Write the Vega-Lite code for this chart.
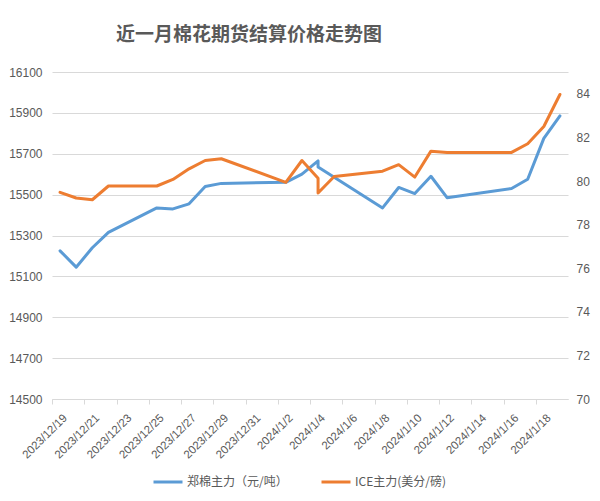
{
  "$schema": "https://vega.github.io/schema/vega-lite/v6.json",
  "autosize": "none",
  "width": 516,
  "height": 327,
  "padding": {"left": 52, "top": 72, "right": 32, "bottom": 102},
  "background": "white",
  "title": {
    "text": "近一月棉花期货结算价格走势图",
    "anchor": "start",
    "frame": "group",
    "dx": 64,
    "offset": 2,
    "baseline": "bottom",
    "font": "Noto Sans CJK SC",
    "fontSize": 19,
    "fontWeight": "bold",
    "color": "#595959"
  },
  "config": {
    "view": {"stroke": null},
    "font": "Liberation Sans",
    "axis": {"labelColor": "#595959", "labelFont": "Liberation Sans", "title": null}
  },
  "data": {
    "values": [
      {"i": 1, "series": "郑棉主力（元/吨）", "date": "2023/12/19", "value": 15225},
      {"i": 2, "series": "郑棉主力（元/吨）", "date": "2023/12/20", "value": 15145},
      {"i": 3, "series": "郑棉主力（元/吨）", "date": "2023/12/21", "value": 15240},
      {"i": 4, "series": "郑棉主力（元/吨）", "date": "2023/12/22", "value": 15315},
      {"i": 5, "series": "郑棉主力（元/吨）", "date": "2023/12/25", "value": 15435},
      {"i": 6, "series": "郑棉主力（元/吨）", "date": "2023/12/26", "value": 15430},
      {"i": 7, "series": "郑棉主力（元/吨）", "date": "2023/12/27", "value": 15455},
      {"i": 8, "series": "郑棉主力（元/吨）", "date": "2023/12/28", "value": 15540},
      {"i": 9, "series": "郑棉主力（元/吨）", "date": "2023/12/29", "value": 15555},
      {"i": 10, "series": "郑棉主力（元/吨）", "date": "2024/1/2", "value": 15560},
      {"i": 11, "series": "郑棉主力（元/吨）", "date": "2024/1/3", "value": 15600},
      {"i": 12, "series": "郑棉主力（元/吨）", "date": "2024/1/4", "value": 15665},
      {"i": 13, "series": "郑棉主力（元/吨）", "date": "2024/1/4", "value": 15635},
      {"i": 14, "series": "郑棉主力（元/吨）", "date": "2024/1/8", "value": 15435},
      {"i": 15, "series": "郑棉主力（元/吨）", "date": "2024/1/9", "value": 15535},
      {"i": 16, "series": "郑棉主力（元/吨）", "date": "2024/1/10", "value": 15505},
      {"i": 17, "series": "郑棉主力（元/吨）", "date": "2024/1/11", "value": 15590},
      {"i": 18, "series": "郑棉主力（元/吨）", "date": "2024/1/12", "value": 15485},
      {"i": 19, "series": "郑棉主力（元/吨）", "date": "2024/1/16", "value": 15530},
      {"i": 20, "series": "郑棉主力（元/吨）", "date": "2024/1/17", "value": 15575},
      {"i": 21, "series": "郑棉主力（元/吨）", "date": "2024/1/18", "value": 15775},
      {"i": 22, "series": "郑棉主力（元/吨）", "date": "2024/1/19", "value": 15885},
      {"i": 1, "series": "ICE主力(美分/磅)", "date": "2023/12/19", "value": 79.48},
      {"i": 2, "series": "ICE主力(美分/磅)", "date": "2023/12/20", "value": 79.22},
      {"i": 3, "series": "ICE主力(美分/磅)", "date": "2023/12/21", "value": 79.14},
      {"i": 4, "series": "ICE主力(美分/磅)", "date": "2023/12/22", "value": 79.77},
      {"i": 5, "series": "ICE主力(美分/磅)", "date": "2023/12/25", "value": 79.77},
      {"i": 6, "series": "ICE主力(美分/磅)", "date": "2023/12/26", "value": 80.07},
      {"i": 7, "series": "ICE主力(美分/磅)", "date": "2023/12/27", "value": 80.56},
      {"i": 8, "series": "ICE主力(美分/磅)", "date": "2023/12/28", "value": 80.94},
      {"i": 9, "series": "ICE主力(美分/磅)", "date": "2023/12/29", "value": 81.02},
      {"i": 10, "series": "ICE主力(美分/磅)", "date": "2024/1/2", "value": 79.94},
      {"i": 11, "series": "ICE主力(美分/磅)", "date": "2024/1/3", "value": 80.94},
      {"i": 12, "series": "ICE主力(美分/磅)", "date": "2024/1/4", "value": 80.13},
      {"i": 13, "series": "ICE主力(美分/磅)", "date": "2024/1/4", "value": 79.45},
      {"i": 14, "series": "ICE主力(美分/磅)", "date": "2024/1/5", "value": 80.21},
      {"i": 15, "series": "ICE主力(美分/磅)", "date": "2024/1/8", "value": 80.45},
      {"i": 16, "series": "ICE主力(美分/磅)", "date": "2024/1/9", "value": 80.75},
      {"i": 17, "series": "ICE主力(美分/磅)", "date": "2024/1/10", "value": 80.18},
      {"i": 18, "series": "ICE主力(美分/磅)", "date": "2024/1/11", "value": 81.37},
      {"i": 19, "series": "ICE主力(美分/磅)", "date": "2024/1/12", "value": 81.31},
      {"i": 20, "series": "ICE主力(美分/磅)", "date": "2024/1/16", "value": 81.31},
      {"i": 21, "series": "ICE主力(美分/磅)", "date": "2024/1/17", "value": 81.71},
      {"i": 22, "series": "ICE主力(美分/磅)", "date": "2024/1/18", "value": 82.5},
      {"i": 23, "series": "ICE主力(美分/磅)", "date": "2024/1/19", "value": 83.97}
    ]
  },
  "encoding": {
    "x": {
      "field": "date",
      "type": "temporal",
      "scale": {
        "domain": [
          {"year": 2023, "month": 12, "date": 18, "hours": 12},
          {"year": 2024, "month": 1, "date": 19, "hours": 12}
        ]
      },
      "axis": {
        "values": [
          {"year": 2023, "month": 12, "date": 19},
          {"year": 2023, "month": 12, "date": 21},
          {"year": 2023, "month": 12, "date": 23},
          {"year": 2023, "month": 12, "date": 25},
          {"year": 2023, "month": 12, "date": 27},
          {"year": 2023, "month": 12, "date": 29},
          {"year": 2023, "month": 12, "date": 31},
          {"year": 2024, "month": 1, "date": 2},
          {"year": 2024, "month": 1, "date": 4},
          {"year": 2024, "month": 1, "date": 6},
          {"year": 2024, "month": 1, "date": 8},
          {"year": 2024, "month": 1, "date": 10},
          {"year": 2024, "month": 1, "date": 12},
          {"year": 2024, "month": 1, "date": 14},
          {"year": 2024, "month": 1, "date": 16},
          {"year": 2024, "month": 1, "date": 18}
        ],
        "format": "%Y/%-m/%-d",
        "labelAngle": -45,
        "labelAlign": "right",
        "labelBaseline": "middle",
        "labelFontSize": 11.5,
        "labelColor": "#595959",
        "tickOffset": -8,
        "labelOffset": 13,
        "tickSize": 5,
        "tickColor": "#d9d9d9",
        "domainColor": "#d9d9d9",
        "labelPadding": 12,
        "labelOverlap": false,
        "labelBound": false,
        "labelFlush": false,
        "grid": false
      }
    },
    "color": {
      "field": "series",
      "type": "nominal",
      "scale": {
        "domain": ["郑棉主力（元/吨）", "ICE主力(美分/磅)"],
        "range": ["#5B9BD5", "#ED7D31"]
      },
      "legend": {
        "title": null,
        "orient": "none",
        "legendX": 100,
        "legendY": 394,
        "direction": "horizontal",
        "columns": 2,
        "padding": 0,
        "symbolType": "stroke",
        "symbolSize": 841,
        "symbolStrokeWidth": 3,
        "labelOffset": 3,
        "columnPadding": 27,
        "labelFont": "Noto Sans CJK SC",
        "labelFontSize": 12,
        "labelColor": "#595959",
        "labelLimit": 300
      }
    },
    "order": {"field": "i", "type": "quantitative"}
  },
  "layer": [
    {
      "transform": [{"filter": "datum.series === '郑棉主力（元/吨）'"}],
      "mark": {"type": "line", "strokeWidth": 3, "strokeJoin": "round", "strokeCap": "round"},
      "encoding": {
        "y": {
          "field": "value",
          "type": "quantitative",
          "scale": {"domain": [14500, 16100], "nice": false, "zero": false},
          "axis": {
            "values": [14500, 14700, 14900, 15100, 15300, 15500, 15700, 15900, 16100],
            "format": "d",
            "grid": true,
            "gridColor": "#d9d9d9",
            "domain": false,
            "ticks": false,
            "labelPadding": 10,
            "labelFontSize": 12,
            "labelColor": "#595959"
          }
        }
      }
    },
    {
      "transform": [{"filter": "datum.series === 'ICE主力(美分/磅)'"}],
      "mark": {"type": "line", "strokeWidth": 3, "strokeJoin": "round", "strokeCap": "round"},
      "encoding": {
        "y": {
          "field": "value",
          "type": "quantitative",
          "scale": {"domain": [70, 85], "nice": false, "zero": false},
          "axis": {
            "orient": "right",
            "values": [70, 72, 74, 76, 78, 80, 82, 84],
            "grid": false,
            "domain": false,
            "ticks": false,
            "labelPadding": 8,
            "labelFontSize": 12,
            "labelColor": "#595959"
          }
        }
      }
    }
  ],
  "resolve": {"scale": {"y": "independent"}}
}
